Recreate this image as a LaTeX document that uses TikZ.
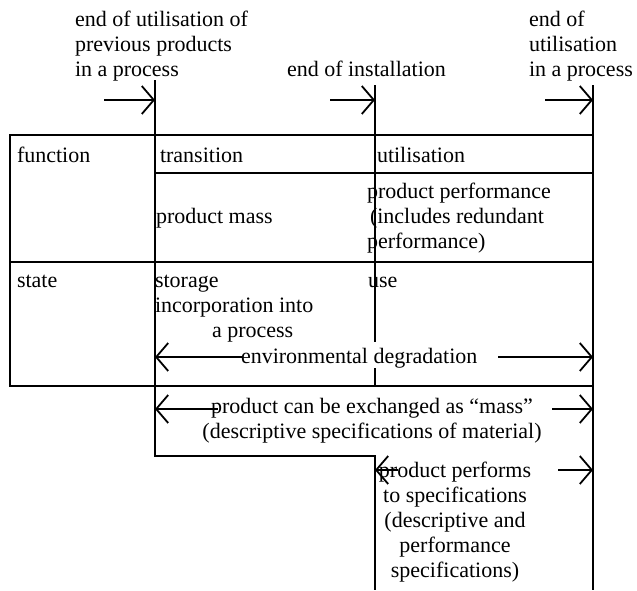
\documentclass[tikz,border=0pt]{standalone}
\usepackage{fontspec}
\setmainfont{Liberation Serif}
\usetikzlibrary{arrows.meta}
\begin{document}
\begin{tikzpicture}[x=1pt,y=-1pt,
  every node/.style={inner sep=0pt, outer sep=0pt, font=\fontsize{22}{25}\selectfont},
  ln/.style={line width=1.8pt},
  arr/.style={line width=1.8pt, -{Straight Barb[length=12pt,width=28pt]}},
  lbl/.style={anchor=base west, align=left},
  clbl/.style={anchor=base, align=center}]
\useasboundingbox (0,0) rectangle (637,590);
% key points
\coordinate (v1t) at (155,80);
\coordinate (v1b) at (155,456);
\coordinate (v2s) at (375,456);
\coordinate (v2b) at (375,590);
\coordinate (v2t) at (375,85);
\coordinate (v2g1) at (375,342);
\coordinate (v2g2) at (375,368);
\coordinate (v2tb) at (375,386);
\coordinate (v3t) at (593,85);
\coordinate (v3b) at (593,590);
\coordinate (tl) at (10,135);
\coordinate (br) at (593,386);
\coordinate (r1l) at (155,173);
\coordinate (r1r) at (593,173);
\coordinate (r2l) at (10,262);
\coordinate (r2r) at (593,262);
% arrow points
\coordinate (a1s) at (104,100);
\coordinate (a1e) at (155,100);
\coordinate (a2s) at (330,100);
\coordinate (a2e) at (375,100);
\coordinate (a3s) at (545,100);
\coordinate (a3e) at (593,100);
\coordinate (edL) at (243,357);
\coordinate (edLt) at (155,357);
\coordinate (edR) at (498,357);
\coordinate (edRt) at (593,357);
\coordinate (mL) at (218,409);
\coordinate (mLt) at (155,409);
\coordinate (mR) at (552,409);
\coordinate (mRt) at (593,409);
\coordinate (pL) at (398,470);
\coordinate (pLt) at (375,470);
\coordinate (pR) at (558,470);
\coordinate (pRt) at (593,470);
% lines
\draw[ln] (tl) rectangle (br);
\draw[ln] (r1l) -- (r1r);
\draw[ln] (r2l) -- (r2r);
\draw[ln] (v1t) -- (v1b) -- (v2s) -- (v2b);
\draw[ln] (v2t) -- (v2g1);
\draw[ln] (v2g2) -- (v2tb);
\draw[ln] (v3t) -- (v3b);
% arrows
\draw[arr] (a1s) -- (a1e);
\draw[arr] (a2s) -- (a2e);
\draw[arr] (a3s) -- (a3e);
\draw[arr] (edL) -- (edLt);
\draw[arr] (edR) -- (edRt);
\draw[arr] (mL) -- (mLt);
\draw[arr] (mR) -- (mRt);
\draw[arr] (pL) -- (pLt);
\draw[arr] (pR) -- (pRt);
% texts (multi-line nodes: base = last line's baseline)
\node[lbl] (t1) at (75,76) {end of utilisation of\\previous products\\in a process};
\node[lbl] (t2) at (287,76) {end of installation};
\node[lbl] (t3) at (529,76) {end of\\utilisation\\in a process};
\node[lbl] (fn) at (17,162) {function};
\node[lbl] (tr) at (160,162) {transition};
\node[lbl] (ut) at (377,162) {utilisation};
\node[lbl] (pm) at (156,223) {product mass};
\node[lbl] (pp) at (367,248) {product performance\\\hspace*{3pt}(includes redundant\\performance)};
\node[lbl] (st) at (17,287) {state};
\node[lbl] (sg) at (155,337) {storage\\incorporation into\\\hspace*{57pt}a process};
\node[lbl] (us) at (368,287) {use};
\node[lbl] (ed) at (241,363) {environmental degradation};
\node[clbl] (mx) at (372,438) {product can be exchanged as “mass”\\(descriptive specifications of material)};
\node[clbl] (pf) at (455,577) {product performs\\to specifications\\(descriptive and\\performance\\specifications)};
\end{tikzpicture}
\end{document}
